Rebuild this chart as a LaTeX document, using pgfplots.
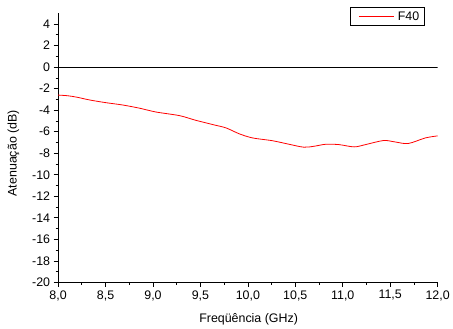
\documentclass[border=0pt]{standalone}
\usepackage{fontspec}
\setmainfont{Liberation Sans}
\usepackage{pgfplots}
\pgfplotsset{compat=1.18}
\begin{document}
\begin{tikzpicture}
\begin{axis}[
  scale only axis,
  width=380.7bp, height=270bp,
  xmin=8, xmax=12, ymin=-20, ymax=5,
  axis lines*=left,
  axis line style={black, line width=0.8pt},
  tick align=outside,
  major tick length=4.5bp,
  minor tick length=2.5bp,
  tick style={black, line width=0.7pt},
  xtick={8,8.5,...,12},
  minor x tick num=1,
  ytick={-20,-18,...,4},
  minor y tick num=1,
  /pgf/number format/assume math mode=true,
  xticklabel style={/pgf/number format/.cd, use comma, fixed, fixed zerofill, precision=1},
  tick label style={font=\fontsize{12.5}{14}\selectfont},
  label style={font=\fontsize{12.5}{15}\selectfont},
  xlabel={Freqüência (GHz)},
  ylabel={Atenuação (dB)},
  xlabel style={at={(axis description cs:0.502,-0.136)}, anchor=center},
  ylabel style={at={(axis description cs:-0.118,0.48)}, anchor=center},
  legend style={at={(axis description cs:0.965,1.022)}, anchor=north east,
    font=\fontsize{12.5}{15}\selectfont,
    inner xsep=3bp, inner ysep=2bp},
  legend cell align=left,
  legend image code/.code={\path[draw=none, fill=none] (-6bp,-4bp) rectangle (37bp,4bp);\draw[#1, red, line width=0.8pt] (0bp,0bp) -- (35bp,0bp);},
]
\addplot[black, line width=0.8pt, forget plot] coordinates {(8,0) (12,0)};
\addplot[red, line width=0.8pt, smooth] coordinates {
(8.00,-2.60)
(8.10,-2.66)
(8.20,-2.80)
(8.33,-3.05)
(8.50,-3.30)
(8.68,-3.52)
(8.86,-3.82)
(9.03,-4.17)
(9.28,-4.51)
(9.45,-4.94)
(9.63,-5.34)
(9.77,-5.65)
(9.91,-6.20)
(10.05,-6.58)
(10.26,-6.84)
(10.43,-7.16)
(10.59,-7.44)
(10.70,-7.35)
(10.82,-7.17)
(10.96,-7.20)
(11.12,-7.41)
(11.24,-7.20)
(11.43,-6.82)
(11.55,-6.95)
(11.69,-7.10)
(11.87,-6.58)
(12.00,-6.39)
};
\addlegendentry{F40}
\end{axis}
\path ([shift={(-58.3bp,-45.7bp)}]current axis.south west) rectangle ([shift={(394.7bp,283.3bp)}]current axis.south west);
\end{tikzpicture}
\end{document}
